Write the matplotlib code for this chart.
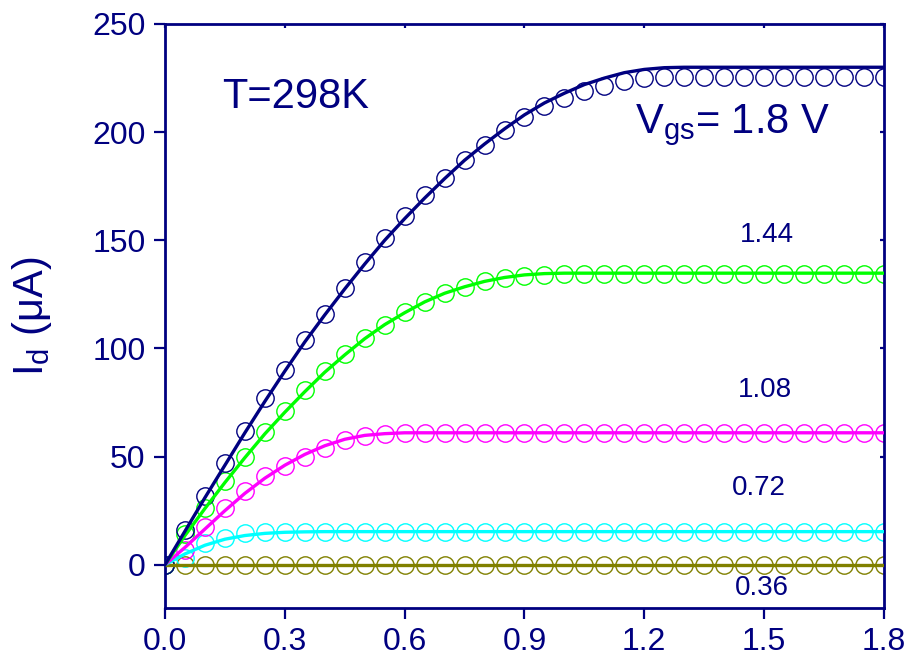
import matplotlib
matplotlib.use("Agg")
import matplotlib.pyplot as plt
from matplotlib import lines as mlines

plt.rcParams['font.family'] = ['Liberation Sans', 'DejaVu Sans']
plt.rcParams['mathtext.fontset'] = 'custom'
plt.rcParams['mathtext.rm'] = 'Liberation Sans'
plt.rcParams['mathtext.it'] = 'Liberation Sans:italic'

NAVY = '#000080'

# drain voltage (V)
vds = [0.00, 0.05, 0.10, 0.15, 0.20, 0.25, 0.30, 0.35, 0.40, 0.45,
       0.50, 0.55, 0.60, 0.65, 0.70, 0.75, 0.80, 0.85, 0.90, 0.95,
       1.00, 1.05, 1.10, 1.15, 1.20, 1.25, 1.30, 1.35, 1.40, 1.45,
       1.50, 1.55, 1.60, 1.65, 1.70, 1.75, 1.80]

# measured Id (uA), circles
meas_180 = [0, 16, 32, 47, 62, 77, 90, 104, 116, 128,
            140, 151, 161, 171, 179, 187, 194, 201, 207, 212,
            216, 219, 221.5, 223.5, 225, 225.5, 225.5, 225.5, 225.5, 225.5,
            225.5, 225.5, 225.5, 225.5, 225.5, 225.5, 225.5]
meas_144 = [0, 14, 26, 38.5, 50, 61.5, 71, 81, 89.5, 97.5,
            105, 111, 117, 121.5, 125.5, 128.5, 131, 132.5, 133.5, 134,
            134.5, 134.5, 134.5, 134.5, 134.5, 134.5, 134.5, 134.5, 134.5, 134.5,
            134.5, 134.5, 134.5, 134.5, 134.5, 134.5, 134.5]
meas_108 = [0, 7, 17.5, 26, 34, 41, 45.5, 50, 54, 57.5,
            59.5, 60.5, 61, 61, 61, 61, 61, 61, 61, 61,
            61, 61, 61, 61, 61, 61, 61, 61, 61, 61,
            61, 61, 61, 61, 61, 61, 61]
meas_072 = [0, 3, 10, 12.3, 14.6, 15, 15.2, 15.3, 15.3, 15.3,
            15.3, 15.3, 15.3, 15.3, 15.3, 15.3, 15.3, 15.3, 15.3, 15.3,
            15.3, 15.3, 15.3, 15.3, 15.3, 15.3, 15.3, 15.3, 15.3, 15.3,
            15.3, 15.3, 15.3, 15.3, 15.3, 15.3, 15.3]
meas_036 = [0, 0, 0, 0, 0, 0, 0, 0, 0, 0,
            0, 0, 0, 0, 0, 0, 0, 0, 0, 0,
            0, 0, 0, 0, 0, 0, 0, 0, 0, 0,
            0, 0, 0, 0, 0, 0, 0]

# model Id (uA), solid lines
fit_180 = [0, 15.5, 31, 46, 61, 75.5, 89.5, 103, 115.5, 127.5,
           139, 150, 160, 169.5, 178.5, 187, 194.5, 201.5, 208, 213.5,
           218, 222, 225, 227.5, 229, 229.8, 230, 230, 230, 230,
           230, 230, 230, 230, 230, 230, 230]
fit_144 = [0, 13.5, 26, 38, 49.5, 60.5, 70.5, 80, 89, 97,
           104.5, 111, 116.5, 121.5, 125.5, 128.5, 131, 132.8, 134, 134.6,
           134.8, 134.8, 134.8, 134.8, 134.8, 134.8, 134.8, 134.8, 134.8, 134.8,
           134.8, 134.8, 134.8, 134.8, 134.8, 134.8, 134.8]
fit_108 = [0, 8, 16.5, 25, 33, 40, 46, 51, 55, 58,
           59.8, 60.6, 61, 61, 61, 61, 61, 61, 61, 61,
           61, 61, 61, 61, 61, 61, 61, 61, 61, 61,
           61, 61, 61, 61, 61, 61, 61]
fit_072 = [0, 5, 9, 11.8, 13.5, 14.5, 15, 15.2, 15.3, 15.3,
           15.3, 15.3, 15.3, 15.3, 15.3, 15.3, 15.3, 15.3, 15.3, 15.3,
           15.3, 15.3, 15.3, 15.3, 15.3, 15.3, 15.3, 15.3, 15.3, 15.3,
           15.3, 15.3, 15.3, 15.3, 15.3, 15.3, 15.3]
fit_036 = [0, 0, 0, 0, 0, 0, 0, 0, 0, 0,
           0, 0, 0, 0, 0, 0, 0, 0, 0, 0,
           0, 0, 0, 0, 0, 0, 0, 0, 0, 0,
           0, 0, 0, 0, 0, 0, 0]

series = [
    (meas_036, fit_036, '#808000'),
    (meas_072, fit_072, '#00FFFF'),
    (meas_108, fit_108, '#FF00FF'),
    (meas_144, fit_144, '#00FF00'),
    (meas_180, fit_180, NAVY),
]
vgs_labels = ['0.36', '0.72', '1.08', '1.44']
label_pos = [(0.830, 0.022), (0.826, 0.193), (0.834, 0.361), (0.837, 0.626)]

fig = plt.figure(figsize=(9.1, 6.61), dpi=100)
ax = fig.add_axes([0.1813, 0.0802, 0.7901, 0.8835])

for meas, fit, col in series:
    ax.plot(vds, meas, 'o', mfc='none', mec=col, ms=12.5, mew=1.0, zorder=2)
for meas, fit, col in series:
    ax.plot(vds, fit, '-', color=col, lw=2.4, zorder=3)

ax.set_xlim(0, 1.8)
ax.set_ylim(-20, 250)
ax.set_xticks([0.0, 0.3, 0.6, 0.9, 1.2, 1.5, 1.8])
ax.set_xticklabels(['0.0', '0.3', '0.6', '0.9', '1.2', '1.5', '1.8'])
ax.set_yticks([0, 50, 100, 150, 200, 250])

for s in ax.spines.values():
    s.set_color(NAVY)
    s.set_linewidth(2)

ax.tick_params(axis='both', which='major', direction='out', length=8, width=1.6,
               colors=NAVY, labelsize=23, pad=6, top=True, right=True)

# top/right ticks point inward and are short
for tk in ax.xaxis.get_major_ticks():
    tk.tick2line.set_marker(mlines.TICKDOWN)
    tk.tick2line.set_markersize(3)
for tk in ax.yaxis.get_major_ticks():
    tk.tick2line.set_marker(mlines.TICKLEFT)
    tk.tick2line.set_markersize(3)

ax.set_ylabel(r'I$_\mathrm{d}$ ($\mathrm{\mu}$A)', fontsize=30, color=NAVY)
ax.yaxis.set_label_coords(-0.155, 0.5)

ax.text(0.080, 0.856, 'T=298K', transform=ax.transAxes, fontsize=30, color=NAVY)
ax.text(0.654, 0.813, r'V$_\mathrm{gs}$= 1.8 V', transform=ax.transAxes,
        fontsize=30, color=NAVY)
for lab, (px, py) in zip(vgs_labels, label_pos):
    ax.text(px, py, lab, transform=ax.transAxes, fontsize=20, color=NAVY, ha='center')

fig.savefig('out.png', dpi=100)
